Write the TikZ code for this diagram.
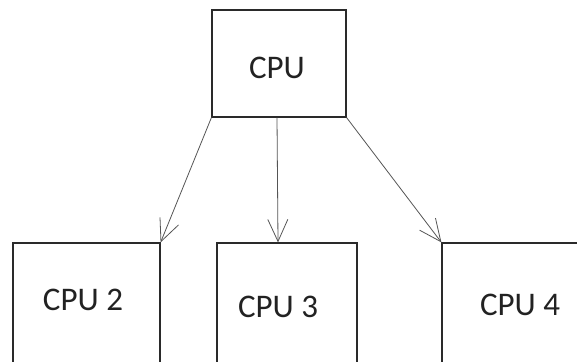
\documentclass[tikz,border=0pt]{standalone}
\usepackage{fontspec}
\setmainfont{Carlito}
\usetikzlibrary{arrows.meta}
\definecolor{edge}{HTML}{2A2A2A}
\definecolor{wire}{HTML}{555555}
\definecolor{ink}{HTML}{222222}
\begin{document}
\begin{tikzpicture}[x=1pt,y=-1pt,
  box/.style={draw=edge, line width=1.2pt, fill=white, inner sep=0pt},
  lbl/.style={text=ink, font=\fontsize{33}{36}\selectfont, inner sep=0pt},
  link/.style={draw=wire, line width=0.8pt, -{Straight Barb[length=22pt,width=20pt,line width=0.8pt]}}]
  \useasboundingbox (0,0) rectangle (577,361);
  \clip (0,0) rectangle (577,361);
  \fill[white] (0,0) rectangle (577,361);

  % boxes
  \node[box, minimum width=134pt, minimum height=107pt] (top) at (279,63.5) {};
  \node[box, minimum width=147pt, minimum height=160pt] (c2) at (86.5,323) {};
  \node[box, minimum width=140pt, minimum height=160pt] (c3) at (287,323) {};
  \node[box, minimum width=180pt, minimum height=160pt] (c4) at (532,323) {};

  % labels
  \node[lbl] (ttop) at (277,68) {CPU};
  \node[lbl] (t2) at (83,300) {CPU 2};
  \node[lbl] (t3) at (278,307) {CPU 3};
  \node[lbl] (t4) at (520,305) {CPU 4};

  % connectors
  \draw[link] (top.south west) -- (c2.north east);
  \draw[link] ([xshift=-2pt]top.south) -- ([xshift=-9pt]c3.north);
  \draw[link] (top.south east) -- (c4.north west);
\end{tikzpicture}
\end{document}
